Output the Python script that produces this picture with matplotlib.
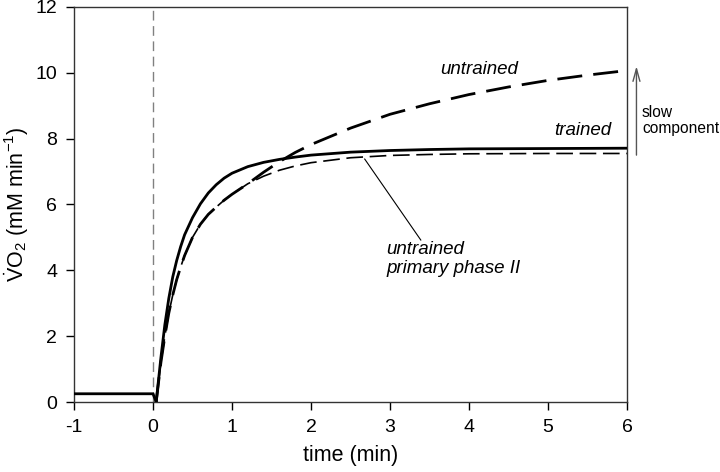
import matplotlib
matplotlib.use("Agg")
import matplotlib.pyplot as plt

plt.rcParams['font.family'] = ['Liberation Sans', 'DejaVu Sans']
plt.rcParams['mathtext.fontset'] = 'custom'
plt.rcParams['mathtext.rm'] = 'Liberation Sans'
plt.rcParams['mathtext.it'] = 'Liberation Sans:italic'
plt.rcParams['axes.unicode_minus'] = False

# ---- data ----
t_base = [-1.0, 0.0, 0.04]
y_base = [0.25, 0.25, 0.0]

t_trained = [0.04, 0.1, 0.15, 0.2, 0.25, 0.3, 0.35, 0.4, 0.5, 0.6, 0.7, 0.8, 0.9, 1.0,
             1.2, 1.4, 1.6, 1.8, 2.0, 2.5, 3.0, 3.5, 4.0, 5.0, 6.0]
trained = [0.0, 1.35, 2.35, 3.15, 3.8, 4.3, 4.72, 5.08, 5.6, 6.02, 6.35, 6.6, 6.8, 6.95,
           7.15, 7.28, 7.37, 7.44, 7.50, 7.59, 7.64, 7.67, 7.69, 7.70, 7.71]

t_primary = [0.04, 0.1, 0.15, 0.2, 0.25, 0.3, 0.35, 0.4, 0.5, 0.6, 0.7, 0.8, 0.9, 1.0,
             1.2, 1.4, 1.6, 1.8, 2.0, 2.5, 3.0, 3.5, 4.0, 5.0, 6.0]
primary = [0.0, 1.2, 2.0, 2.7, 3.25, 3.72, 4.1, 4.45, 5.0, 5.4, 5.7, 5.92, 6.13, 6.31,
           6.63, 6.86, 7.04, 7.17, 7.27, 7.42, 7.49, 7.52, 7.54, 7.55, 7.55]

t_untrained = [0.04, 0.1, 0.15, 0.2, 0.25, 0.3, 0.35, 0.4, 0.5, 0.6, 0.7, 0.8, 0.9, 1.0,
               1.2, 1.4, 1.6, 1.8, 2.0, 2.5, 3.0, 3.5, 4.0, 4.5, 5.0, 5.5, 6.0]
untrained = [0.0, 1.2, 2.0, 2.7, 3.25, 3.72, 4.1, 4.45, 5.0, 5.4, 5.7, 5.92, 6.13, 6.31,
             6.63, 6.98, 7.30, 7.58, 7.82, 8.32, 8.74, 9.06, 9.34, 9.57, 9.77, 9.93, 10.07]

x_ticks = [-1, 0, 1, 2, 3, 4, 5, 6]
y_ticks = [0, 2, 4, 6, 8, 10, 12]

fig = plt.figure(figsize=(7.2, 4.72), dpi=100)
ax = fig.add_axes([0.1028, 0.1483, 0.7680, 0.8369])

ax.axvline(0, color='#808080', lw=1.0, dashes=(7, 4), zorder=1)

ax.plot(t_base, y_base, color='black', lw=2.0, solid_joinstyle='miter', zorder=3)
ax.plot(t_primary, primary, color='black', lw=1.2, dashes=(10, 4), zorder=2)
ax.plot(t_untrained, untrained, color='black', lw=2.0, dashes=(9, 4), zorder=3)
ax.plot(t_trained, trained, color='black', lw=2.0, zorder=4)

ax.set_xlim(-1, 6)
ax.set_ylim(0, 12)
ax.set_xticks(x_ticks)
ax.set_yticks(y_ticks)
ax.tick_params(axis='both', direction='out', length=6, width=1, labelsize=14,
               colors='black', pad=6)
for s in ax.spines.values():
    s.set_linewidth(1.0)
    s.set_color('#333333')

ax.set_xlabel('time (min)', fontsize=15.5, labelpad=7)
ax.set_ylabel(r'$\dot{\mathrm{V}}\mathrm{O}_2$ (mM min$^{-1}$)', fontsize=15.5, labelpad=3)

ax.text(3.63, 10.09, 'untrained', fontsize=13.5, style='italic', va='center', ha='left')
ax.text(5.08, 8.24, 'trained', fontsize=13.5, style='italic', va='center', ha='left')
ax.text(2.95, 4.35, 'untrained\nprimary phase II', fontsize=13.5, style='italic',
        va='center', ha='left', linespacing=1.15)
ax.plot([2.68, 3.39], [7.38, 4.92], color='black', lw=0.8, zorder=2)

ax.annotate('', xy=(6.12, 10.2), xytext=(6.12, 7.5), annotation_clip=False,
            arrowprops=dict(arrowstyle='->,head_length=0.9,head_width=0.25',
                            color='#555555', lw=1.0, shrinkA=0, shrinkB=0))
ax.text(6.19, 8.54, 'slow\ncomponent', fontsize=11.2, va='center', ha='left',
        linespacing=1.1, clip_on=False)

fig.savefig('out.png', dpi=100)
